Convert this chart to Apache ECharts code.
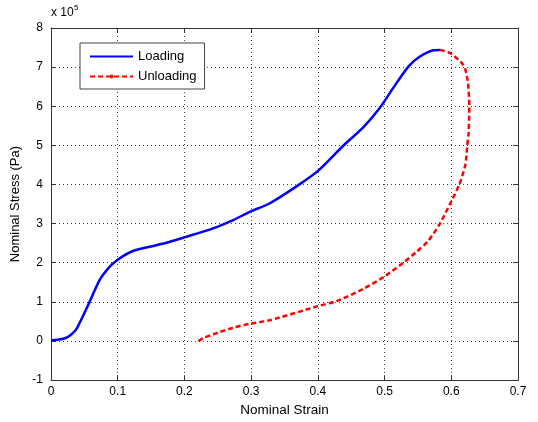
<!DOCTYPE html>
<html><head><meta charset="utf-8">
<script src="https://cdn.jsdelivr.net/npm/echarts@6/dist/echarts.min.js"></script>
<style>html,body{margin:0;padding:0;background:#fff}#c{width:538px;height:422px}</style>
</head><body><div id="c"></div>
<script>
const loadingX = [0,0.01,0.021,0.03,0.038,0.056,0.073,0.088,0.098,0.108,0.123,0.148,0.173,0.198,0.243,0.273,0.298,0.328,0.373,0.401,0.438,0.468,0.493,0.513,0.536,0.553,0.573,0.583];
const loadingY = [0.02,0.03,0.07,0.16,0.3,0.93,1.56,1.9,2.05,2.17,2.3,2.41,2.51,2.64,2.88,3.09,3.3,3.52,4.01,4.36,4.99,5.46,5.96,6.47,7.02,7.27,7.43,7.44];
const unloadX = [0.583,0.598,0.616,0.621,0.625,0.627,0.626,0.624,0.621,0.612,0.598,0.583,0.565,0.548,0.528,0.5,0.468,0.428,0.4,0.328,0.298,0.273,0.243,0.228,0.218];
const unloadY = [7.44,7.36,7.1,6.94,6.6,6.0,5.33,5.0,4.5,4.0,3.5,3.0,2.55,2.28,2.0,1.65,1.33,1.02,0.89,0.53,0.44,0.34,0.17,0.07,-0.04];
const xTicks = [0,0.1,0.2,0.3,0.4,0.5,0.6,0.7];
const yTicks = [-1,0,1,2,3,4,5,6,7,8];

const font = 'Liberation Sans, Arial, sans-serif';
const chart = echarts.init(document.getElementById('c'));
const gridLine = {show:true, lineStyle:{color:'#444', type:[1,3], width:1}};
chart.setOption({
  animation:false,
  textStyle:{fontFamily:font},
  grid:{left:51,right:20,top:28,bottom:40},
  legend:{
    orient:'vertical', left:80, top:43, padding:[7,8,6,9], itemGap:7,
    itemWidth:43, itemHeight:5,
    backgroundColor:'#fff', borderColor:'#444', borderWidth:1,
    textStyle:{fontFamily:font,fontSize:13,color:'#000'},
    data:[{name:'Loading',itemStyle:{opacity:0}},{name:'Unloading'}]
  },
  xAxis:[{
    type:'value', min:0, max:0.7, interval:0.1,
    name:'Nominal Strain', nameLocation:'middle', nameGap:20,
    nameTextStyle:{fontFamily:font,fontSize:13.5,color:'#000'},
    axisLine:{show:true,onZero:false,lineStyle:{color:'#333'}},
    axisTick:{show:true,inside:true,length:5,lineStyle:{color:'#333'}},
    axisLabel:{fontFamily:font,fontSize:12,color:'#000',margin:6,
      formatter:v=>{const t=xTicks.find(k=>Math.abs(k-v)<1e-9);return t===undefined?'':String(t);}},
    splitLine:gridLine
  },{
    type:'value', min:0, max:0.7, interval:0.1, position:'top',
    axisLine:{show:true,onZero:false,lineStyle:{color:'#333'}},
    axisTick:{show:true,inside:true,length:5,lineStyle:{color:'#333'}},
    axisLabel:{show:false}, splitLine:{show:false}
  }],
  yAxis:[{
    type:'value', min:-1, max:8, interval:1,
    name:'Nominal Stress (Pa)', nameLocation:'middle', nameGap:28,
    nameTextStyle:{fontFamily:font,fontSize:13,color:'#000'},
    axisLine:{show:true,onZero:false,lineStyle:{color:'#333'}},
    axisTick:{show:true,inside:true,length:5,lineStyle:{color:'#333'}},
    axisLabel:{fontFamily:font,fontSize:12,color:'#000',margin:8,
      formatter:v=>{const t=yTicks.find(k=>Math.abs(k-v)<1e-9);return t===undefined?'':String(t);}},
    splitLine:gridLine
  },{
    type:'value', min:-1, max:8, interval:1, position:'right',
    axisLine:{show:true,onZero:false,lineStyle:{color:'#333'}},
    axisTick:{show:true,inside:true,length:5,lineStyle:{color:'#333'}},
    axisLabel:{show:false}, splitLine:{show:false}
  }],
  graphic:[{
    type:'text', left:51, top:7,
    style:{text:'x 10', font:'12px '+font, fill:'#000'}
  },{
    type:'text', left:74, top:4,
    style:{text:'5', font:'8px '+font, fill:'#000'}
  }],
  series:[{
    name:'Loading', type:'line', smooth:0.25, symbol:'none',
    data:loadingX.map((x,i)=>[x,loadingY[i]]),
    lineStyle:{color:'#0000ff',width:2.5}, itemStyle:{color:'#0000ff'}
  },{
    name:'Unloading', type:'line', smooth:0.25, symbol:'circle', symbolSize:3, showSymbol:false,
    data:unloadX.map((x,i)=>[x,unloadY[i]]),
    lineStyle:{color:'#ff0000',width:2.5,type:[5,3]}, itemStyle:{color:'#ff0000'}
  }]
});
</script></body></html>
